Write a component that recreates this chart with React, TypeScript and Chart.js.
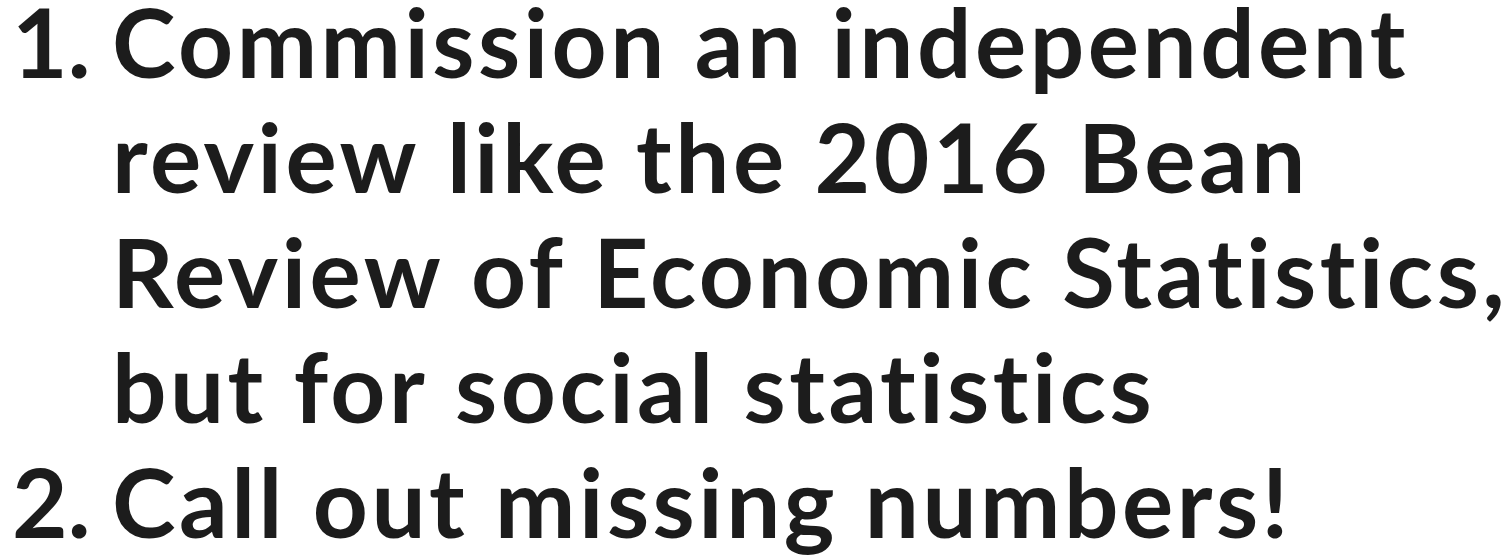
import React, { useEffect, useRef } from "react";
import { Chart, registerables } from "chart.js";

Chart.register(...registerables);

// ---- content ----
const listNumbers = ["1.", "2."];
const itemOneLines = [
  "Commission an independent",
  "review like the 2016 Bean",
  "Review of Economic Statistics,",
  "but for social statistics",
];
const itemTwoLines = ["Call out missing numbers!"];

// ---- style ----
const FONT_FAMILY = "Lato";
const FONT_WEIGHT = 700;
const FONT_SIZE = 96;
const LINE_HEIGHT = 115;
const FIRST_BASELINE = 78;
const NUMBER_X = 12;
const TEXT_X = 112;
const TEXT_COLOR = "#1c1c1c";
const LETTER_SPACING = "3.5px";

const listItems = [
  { number: listNumbers[0], lines: itemOneLines },
  { number: listNumbers[1], lines: itemTwoLines },
];

const listTextPlugin = {
  id: "listText",
  afterDraw(chart: any) {
    const ctx: CanvasRenderingContext2D = chart.ctx;
    ctx.save();
    ctx.font = `${FONT_WEIGHT} ${FONT_SIZE}px ${FONT_FAMILY}`;
    ctx.fillStyle = TEXT_COLOR;
    ctx.textAlign = "left";
    ctx.textBaseline = "alphabetic";
    let row = 0;
    listItems.forEach((item) => {
      (ctx as any).letterSpacing = "0px";
      ctx.fillText(item.number, NUMBER_X, FIRST_BASELINE + row * LINE_HEIGHT);
      (ctx as any).letterSpacing = LETTER_SPACING;
      item.lines.forEach((line) => {
        ctx.fillText(line, TEXT_X, FIRST_BASELINE + row * LINE_HEIGHT);
        row += 1;
      });
    });
    ctx.restore();
  },
};

export default function App() {
  const canvasRef = useRef<HTMLCanvasElement | null>(null);

  useEffect(() => {
    if (!canvasRef.current) return;
    const chart = new Chart(canvasRef.current, {
      type: "bar",
      data: { labels: [], datasets: [] },
      options: {
        animation: false,
        responsive: true,
        maintainAspectRatio: false,
        layout: { padding: 0 },
        plugins: {
          legend: { display: false },
          tooltip: { enabled: false },
          title: { display: false },
        },
        scales: {
          x: { display: false },
          y: { display: false },
        },
      },
      plugins: [listTextPlugin],
    });
    let alive = true;
    document.fonts
      .load(`${FONT_WEIGHT} ${FONT_SIZE}px ${FONT_FAMILY}`)
      .finally(() => {
        if (alive) chart.update();
      });
    return () => {
      alive = false;
      chart.destroy();
    };
  }, []);

  return (
    <div
      style={{
        position: "fixed",
        left: 0,
        top: 0,
        width: 1512,
        height: 560,
        background: "#ffffff",
      }}
    >
      <canvas ref={canvasRef} aria-label={[...itemOneLines, ...itemTwoLines].join(" ")} />
    </div>
  );
}
